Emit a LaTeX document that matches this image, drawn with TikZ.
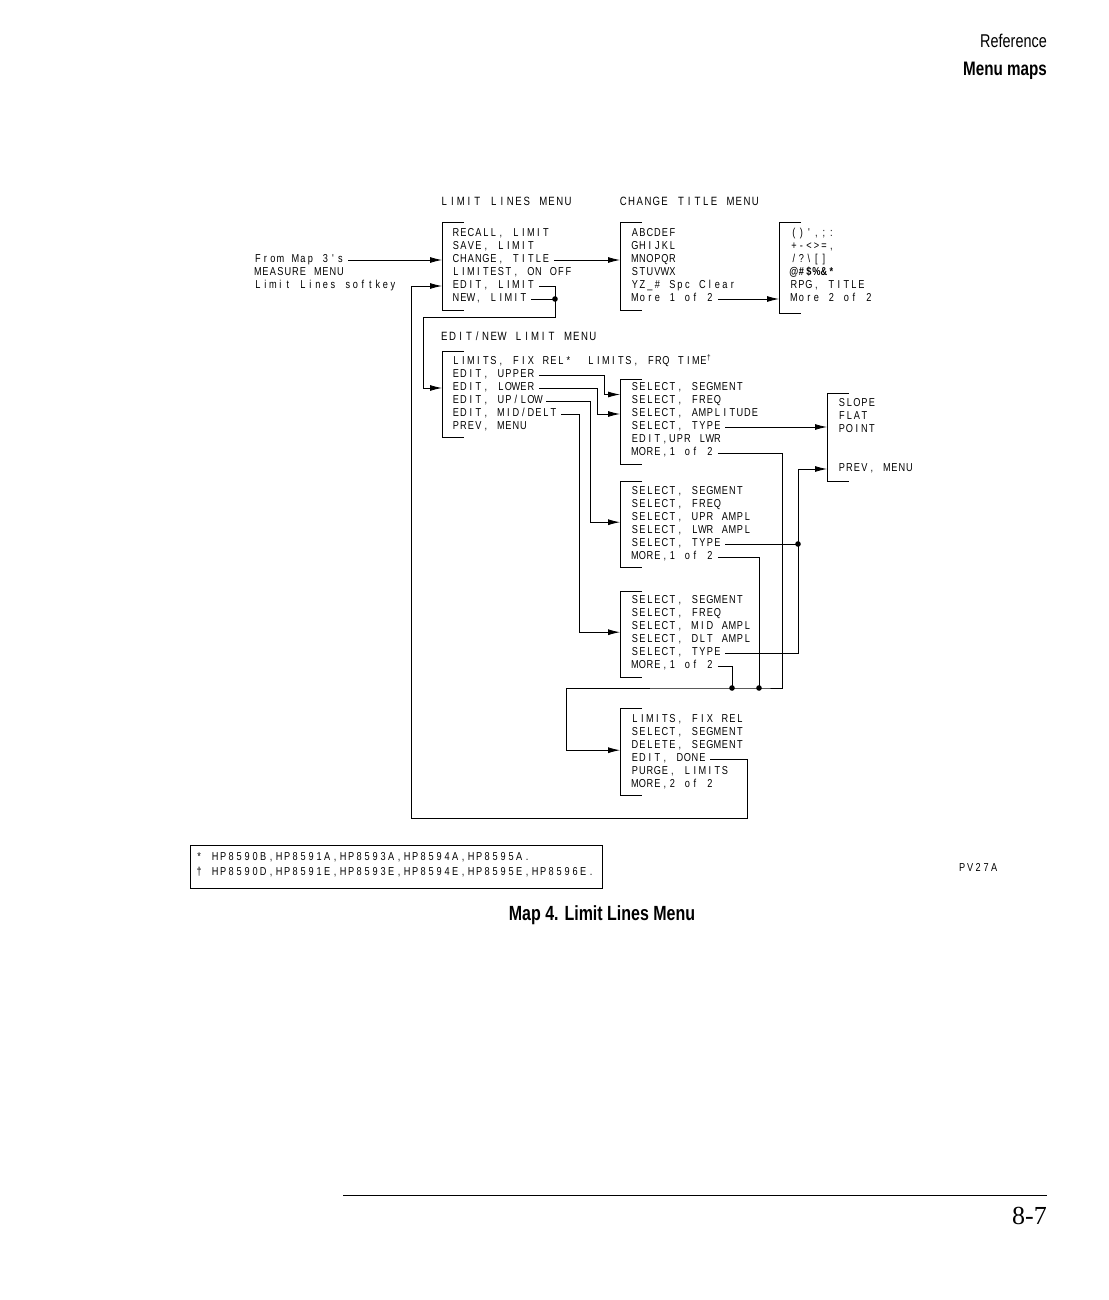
\documentclass[tikz,border=0pt]{standalone}
\usepackage{fontspec}
\setmainfont{Liberation Sans}
\newfontfamily\plotfont[FakeStretch=0.8]{Liberation Sans}
\newfontfamily\condfont[FakeStretch=0.78]{Liberation Sans}
\newfontfamily\numfont{Liberation Serif}
\usetikzlibrary{arrows.meta,calc}
\newdimen\monowd
\monowd=7.5pt
\ExplSyntaxOn
\cs_new_protected:Npn \pmono #1
  { \str_map_inline:nn {#1} { \makebox[\monowd][c]{##1} } }
\ExplSyntaxOff
\newcommand\pmc[1]{\makebox[\monowd][c]{#1}}
\newcommand\itemfont{\plotfont\fontsize{11.5}{12}\selectfont\monowd=7.5pt\relax}
\newcommand\ttlfont{\plotfont\fontsize{12}{13}\selectfont\monowd=8.25pt\relax}
\newcommand\fnfont{\plotfont\fontsize{11.5}{12}\selectfont\monowd=8pt\relax}
\tikzset{
  item/.style={anchor=mid west, inner xsep=4pt, inner ysep=1pt, font=\itemfont},
  ttl/.style={anchor=mid west, inner xsep=0pt, inner ysep=1pt, font=\ttlfont},
  fnt/.style={anchor=mid west, inner xsep=0pt, inner ysep=1pt, font=\fnfont},
  boxn/.style={anchor=north west, minimum width=150pt, inner sep=0pt},
  link/.style={line width=0.85pt, line join=miter},
  arr/.style={link, -{Latex[length=12pt,width=6pt]}},
}
\newcommand\bracketof[1]{\draw[link] ([xshift=22pt]#1.north west) -- (#1.north west) -- (#1.south west) -- ([xshift=22pt]#1.south west);}
\begin{document}
\begin{tikzpicture}[x=1pt,y=-1pt]
\fill[white] (0,0) rectangle (1108,1300);
\useasboundingbox (0,0) rectangle (1108,1300);

% header
\node[anchor=base east, inner sep=0pt, font=\condfont\fontsize{18.5}{20}\selectfont] (hdr1) at (1047,48) {Reference};
\node[anchor=base east, inner sep=0pt, font=\condfont\bfseries\fontsize{19.5}{22}\selectfont] (hdr2) at (1047,76) {Menu maps};

% titles
\node[ttl] (tLL) at (440,203) {\pmono{LIMIT LINES MENU}};
\node[ttl] (tCT) at (619,203) {\pmono{CHANGE TITLE MENU}};
\node[ttl] (tEN) at (440,338) {\pmono{EDIT/NEW LIMIT MENU}};

% menu boxes (brackets)
\node[boxn, minimum height=88pt] (llbox) at (442,222) {};
\node[boxn, minimum height=88pt] (ctbox) at (620,222) {};
\node[boxn, minimum height=91pt] (ct2box) at (779,222) {};
\node[boxn, minimum height=86pt] (enbox) at (442,351) {};
\node[boxn, minimum height=85pt] (abox) at (620,379) {};
\node[boxn, minimum height=88pt] (tbox) at (827,393) {};
\node[boxn, minimum height=86pt] (bbox) at (620,481) {};
\node[boxn, minimum height=86pt] (cbox) at (620,591) {};
\node[boxn, minimum height=87pt] (dbox) at (620,708) {};
\bracketof{llbox}
\bracketof{ctbox}
\bracketof{ct2box}
\bracketof{enbox}
\bracketof{abox}
\bracketof{tbox}
\bracketof{bbox}
\bracketof{cbox}
\bracketof{dbox}

% left labels
\node[item] (from1) at (250,260) {\pmono{From Map 3's}};
\node[item] (from2) at (250,273) {\pmono{MEASURE MENU}};
\node[item] (from3) at (250,286) {\pmono{Limit Lines softkey}};

% limit lines menu
\node[item] (l1) at (448,234) {\pmono{RECALL, LIMIT}};
\node[item] (l2) at (448,247) {\pmono{SAVE, LIMIT}};
\node[item] (l3) at (448,260) {\pmono{CHANGE, TITLE}};
\node[item] (l4) at (448,273) {\pmono{LIMITEST, ON OFF}};
\node[item] (l5) at (448,286) {\pmono{EDIT, LIMIT}};
\node[item] (l6) at (448,299) {\pmono{NEW, LIMIT}};

% change title menu
\node[item] (c1) at (627,234) {\pmono{ABCDEF}};
\node[item] (c2) at (627,247) {\pmono{GHIJKL}};
\node[item] (c3) at (627,260) {\pmono{MNOPQR}};
\node[item] (c4) at (627,273) {\pmono{STUVWX}};
\node[item] (c5) at (627,286) {\pmono{YZ}\pmc{\_}\pmc{\#}\pmono{ Spc Clear}};
\node[item] (c6) at (627,299) {\pmono{More 1 of 2}};

\node[item] (u1) at (786,234) {\pmono{()',;:}};
\node[item] (u2) at (786,247) {\pmono{+-<>=,}};
\node[item] (u3) at (786,260) {\pmono{/?}\pmc{\textbackslash}\pmono{[]}};
\node[item] (u4) at (786,273) {\bfseries\pmc{@}\pmc{\#}\pmc{\$}\pmc{\%}\pmc{\&}\pmc{*}};
\node[item] (u5) at (786,286) {\pmono{RPG, TITLE}};
\node[item] (u6) at (786,299) {\pmono{More 2 of 2}};

% edit/new limit menu
\node[item] (e1) at (448,362) {\pmono{LIMITS, FIX REL*}\pmc{}\pmono{ LIMITS, FRQ TIME}\textsuperscript{†}};
\node[item] (e2) at (448,375) {\pmono{EDIT, UPPER}};
\node[item] (e3) at (448,388) {\pmono{EDIT, LOWER}};
\node[item] (e4) at (448,401) {\pmono{EDIT, UP/LOW}};
\node[item] (e5) at (448,414) {\pmono{EDIT, MID/DELT}};
\node[item] (e6) at (448,427) {\pmono{PREV, MENU}};

% box A
\node[item] (a1) at (627,388) {\pmono{SELECT, SEGMENT}};
\node[item] (a2) at (627,401) {\pmono{SELECT, FREQ}};
\node[item] (a3) at (627,414) {\pmono{SELECT, AMPLITUDE}};
\node[item] (a4) at (627,427) {\pmono{SELECT, TYPE}};
\node[item] (a5) at (627,440) {\pmono{EDIT,UPR LWR}};
\node[item] (a6) at (627,453) {\pmono{MORE,1 of 2}};

% type menu
\node[item] (t1) at (834,404) {\pmono{SLOPE}};
\node[item] (t2) at (834,417) {\pmono{FLAT}};
\node[item] (t3) at (834,430) {\pmono{POINT}};
\node[item] (t4) at (834,469) {\pmono{PREV, MENU}};

% box B
\node[item] (b1) at (627,492) {\pmono{SELECT, SEGMENT}};
\node[item] (b2) at (627,505) {\pmono{SELECT, FREQ}};
\node[item] (b3) at (627,518) {\pmono{SELECT, UPR AMPL}};
\node[item] (b4) at (627,531) {\pmono{SELECT, LWR AMPL}};
\node[item] (b5) at (627,544) {\pmono{SELECT, TYPE}};
\node[item] (b6) at (627,557) {\pmono{MORE,1 of 2}};

% box C
\node[item] (k1n) at (627,601) {\pmono{SELECT, SEGMENT}};
\node[item] (k2n) at (627,614) {\pmono{SELECT, FREQ}};
\node[item] (k3n) at (627,627) {\pmono{SELECT, MID AMPL}};
\node[item] (k4n) at (627,640) {\pmono{SELECT, DLT AMPL}};
\node[item] (k5n) at (627,653) {\pmono{SELECT, TYPE}};
\node[item] (k6n) at (627,666) {\pmono{MORE,1 of 2}};

% box D
\node[item] (d1) at (627,720) {\pmono{LIMITS, FIX REL}};
\node[item] (d2) at (627,733) {\pmono{SELECT, SEGMENT}};
\node[item] (d3) at (627,746) {\pmono{DELETE, SEGMENT}};
\node[item] (d4) at (627,759) {\pmono{EDIT, DONE}};
\node[item] (d5) at (627,772) {\pmono{PURGE, LIMITS}};
\node[item] (d6) at (627,785) {\pmono{MORE,2 of 2}};

% junction coordinates
\coordinate (j1) at (555,299);
\coordinate (q1) at (423,317);
\coordinate (j2) at (798,544);
\coordinate (j3) at (732,688);
\coordinate (j4) at (759,688);
\coordinate (q2) at (782,688);
\coordinate (q3) at (566,688);
\coordinate (q4) at (747,818);
\coordinate (q5) at (411,818);
\coordinate (ainA) at ($(abox.west |- a1.mid west)!0.5!(abox.west |- a2.mid west)$);
\coordinate (ainB) at (abox.west |- a3.mid west);
\coordinate (binB) at ([yshift=2pt]bbox.west);
\coordinate (cinC) at ([yshift=2pt]cbox.west);
\coordinate (dinD) at ([yshift=1.5pt]dbox.west);

% connectors
\draw[arr] (from1.mid east) -- (llbox.west |- from1.mid east);
\draw[arr] (l3.mid east) -- (ctbox.west |- l3.mid east);
\draw[arr] (c6.mid east) -- (ct2box.west |- c6.mid east);
\draw[link] (l5.mid east) -| (j1);
\draw[link] (l6.mid east) -- (j1);
\draw[arr] (j1) |- (q1) |- (enbox.west |- e3.mid west);
\draw[arr] (e2.mid east) -| ([xshift=-16pt]ainA) -- (ainA);
\draw[arr] (e3.mid east) -| ([xshift=-23pt]ainB) -- (ainB);
\draw[arr] (e4.mid east) -| ([xshift=-30pt]binB) -- (binB);
\draw[arr] (e5.mid east) -| ([xshift=-41pt]cinC) -- (cinC);
\draw[arr] (a4.mid east) -- (tbox.west |- a4.mid east);
\draw[link] (b5.mid east) -- (j2);
\draw[link] (k5n.mid east) -| (j2);
\draw[arr] (j2) |- (tbox.west |- t4.mid west);
\draw[link] (a6.mid east) -| (q2) -- (j4) -- (j3) -- (q3);
\draw[link] (b6.mid east) -| (j4);
\draw[link] (k6n.mid east) -| (j3);
\draw[arr] (q3) |- (dinD);
\draw[link] (d4.mid east) -| (q4) -- (q5);
\draw[arr] (q5) |- (llbox.west |- l5.mid west);
\foreach \p in {j1,j2,j3,j4} \fill (\p) circle (2.8pt);

% footnote box
\node[draw, line width=0.8pt, anchor=north west, minimum width=412pt, minimum height=43pt, inner sep=0pt] (fnbox) at (190,845) {};
\node[fnt] (fn1) at (195,858) {\pmono{* HP8590B,HP8591A,HP8593A,HP8594A,HP8595A.}};
\node[fnt] (fn2) at (195,873) {\pmono{† HP8590D,HP8591E,HP8593E,HP8594E,HP8595E,HP8596E.}};
\node[fnt] (pv) at (958,869) {\pmono{PV27A}};

% caption
\node[anchor=base, inner sep=0pt, font=\condfont\bfseries\fontsize{20.5}{22}\selectfont] (cap) at (602,920) {Map 4.  Limit Lines Menu};

% footer
\coordinate (r1) at (343,1195);
\coordinate (r2) at (1047,1195);
\draw[line width=0.9pt] (r1) -- (r2);
\node[anchor=base east, inner sep=0pt, font=\numfont\fontsize{26}{28}\selectfont] (pg) at (1047,1224) {8-7};
\end{tikzpicture}
\end{document}
